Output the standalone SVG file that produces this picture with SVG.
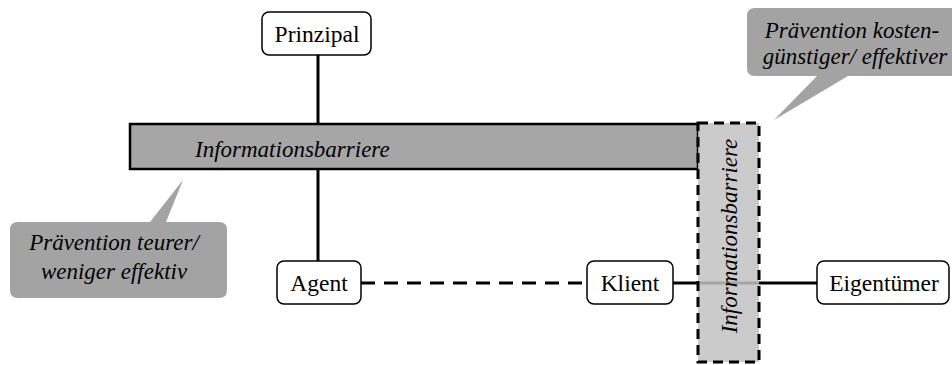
<svg xmlns="http://www.w3.org/2000/svg" width="952" height="365" viewBox="0 0 952 365">
<style>
.node rect{fill:#fff;stroke:#000;stroke-width:1.5}
.lbl{font-family:"Liberation Serif","Times New Roman",serif;font-size:23.5px;fill:#000;text-anchor:middle}
.it{font-family:"Liberation Serif","Times New Roman",serif;font-size:23px;font-style:italic;fill:#000}
.ln{stroke:#000;stroke-width:3;fill:none}
.callout{fill:#a3a3a3}
</style>
<rect width="952" height="365" fill="#fff"/>
<g id="connectors">
<line class="ln" x1="318" y1="55" x2="318" y2="262"/>
<line class="ln" x1="361" y1="283" x2="588" y2="283" stroke-dasharray="14,9"/>
<line class="ln" x1="673" y1="283" x2="818" y2="283"/>
</g>
<g id="barrier-h">
<rect x="130" y="124" width="568" height="45" fill="#a6a6a6" stroke="#000" stroke-width="2.5"/>
<text class="it" x="195" y="157">Informationsbarriere</text>
</g>
<g id="barrier-v">
<rect x="698" y="123" width="61" height="239" fill="#c2c2c2" fill-opacity="0.85" stroke="#000" stroke-width="3" stroke-dasharray="10,6"/>
<text class="it" transform="translate(737,236) rotate(-90)" text-anchor="middle">Informationsbarriere</text>
</g>
<g id="prinzipal" class="node">
<rect x="262" y="12" width="109" height="43" rx="7"/>
<text class="lbl" x="317" y="42">Prinzipal</text>
</g>
<g id="agent" class="node">
<rect x="277" y="261" width="84" height="43" rx="7"/>
<text class="lbl" x="319" y="291">Agent</text>
</g>
<g id="klient" class="node">
<rect x="587" y="261" width="86" height="43" rx="7"/>
<text class="lbl" x="630" y="291">Klient</text>
</g>
<g id="eigentuemer" class="node">
<rect x="817" y="261" width="132" height="43" rx="7"/>
<text class="lbl" x="884" y="291">Eigentümer</text>
</g>
<g id="callout-right">
<path class="callout" d="M755,8 H952 V76 H848 L774,120 L817,76 H755 Q747,76 747,68 V16 Q747,8 755,8 Z"/>
<text class="it" x="852" y="38" text-anchor="middle">Prävention kosten-</text>
<text class="it" x="855" y="64" text-anchor="middle">günstiger/ effektiver</text>
</g>
<g id="callout-left">
<path class="callout" d="M18,222 H150 L183,180 L166,222 H219 Q227,222 227,230 V290 Q227,298 219,298 H18 Q10,298 10,290 V230 Q10,222 18,222 Z"/>
<text class="it" x="114" y="250" text-anchor="middle">Prävention teurer/</text>
<text class="it" x="114" y="279" text-anchor="middle">weniger effektiv</text>
</g>
</svg>
